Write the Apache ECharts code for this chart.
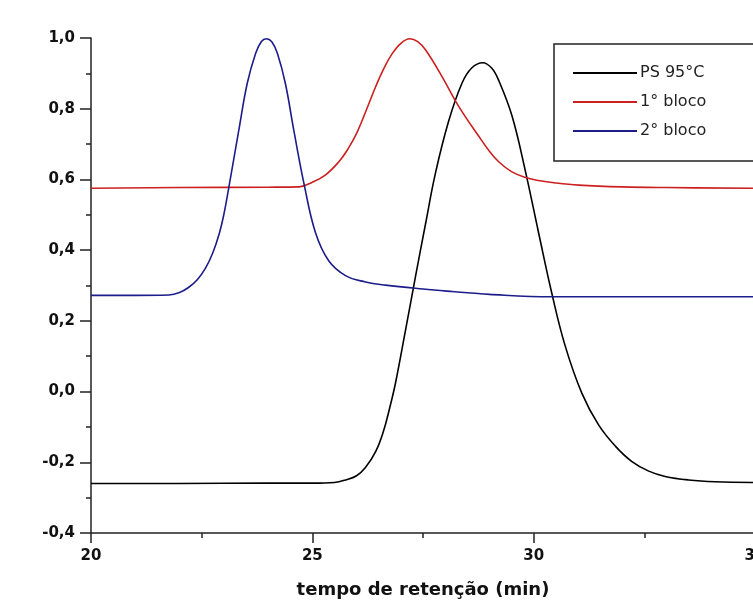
<!DOCTYPE html>
<html>
<head>
<meta charset="utf-8">
<script src="https://cdn.jsdelivr.net/npm/echarts@6/dist/echarts.min.js"></script>
<style>
  html, body { margin: 0; padding: 0; background: #fff; }
</style>
</head>
<body>
<div id="chart" style="width:753px;height:609px"></div>
<script>
// retention time (min) vs normalized signal
const seriesNames = ['PS 95°C', '1° bloco', '2° bloco']

const ps95 = [
  [20, -0.26], [22, -0.26], [24, -0.259], [25, -0.259], [25.5, -0.257],
  [25.75, -0.25], [26.0, -0.238], [26.2, -0.215], [26.43, -0.17], [26.6, -0.115],
  [26.75, -0.045], [26.88, 0.025], [27.1, 0.17], [27.33, 0.325], [27.56, 0.476],
  [27.78, 0.617], [28.08, 0.765], [28.38, 0.872], [28.6, 0.915], [28.85, 0.93],
  [29.05, 0.915], [29.21, 0.88], [29.51, 0.78], [29.81, 0.625], [30.11, 0.45],
  [30.41, 0.278], [30.71, 0.13], [31.09, -0.005], [31.47, -0.095], [31.85, -0.155],
  [32.22, -0.198], [32.6, -0.225], [32.97, -0.24], [33.5, -0.25], [34.1, -0.255],
  [35, -0.257],
]

const bloco1 = [
  [20, 0.575], [22, 0.577], [24, 0.578], [24.7, 0.579], [25.0, 0.592],
  [25.3, 0.613], [25.6, 0.65], [25.8, 0.685], [26.0, 0.73], [26.2, 0.79],
  [26.43, 0.862], [26.6, 0.91], [26.8, 0.955], [27.0, 0.985], [27.2, 0.998],
  [27.38, 0.99], [27.56, 0.966], [27.93, 0.891], [28.31, 0.806], [28.76, 0.722],
  [29.0, 0.68], [29.21, 0.65], [29.5, 0.622], [29.8, 0.606], [30.11, 0.597],
  [30.5, 0.59], [31.02, 0.584], [32, 0.579], [33, 0.577], [35, 0.575],
]

const bloco2 = [
  [20, 0.272], [21, 0.272], [21.76, 0.273], [22.0, 0.28], [22.21, 0.295],
  [22.4, 0.316], [22.59, 0.35], [22.75, 0.392], [22.9, 0.448], [23.0, 0.5],
  [23.11, 0.575], [23.34, 0.74], [23.53, 0.872], [23.72, 0.957], [23.85, 0.99],
  [23.96, 0.998], [24.08, 0.99], [24.21, 0.957], [24.39, 0.872], [24.58, 0.74],
  [24.81, 0.589], [25.07, 0.45], [25.37, 0.37], [25.75, 0.328], [26.2, 0.31],
  [26.65, 0.301], [27.5, 0.29], [28.16, 0.283], [29, 0.275], [30.41, 0.268],
  [32, 0.268], [35, 0.268],
]

const chart = echarts.init(document.getElementById('chart'))

const axisFont = {
  fontFamily: 'DejaVu Sans',
  fontWeight: 'bold',
  fontSize: 15,
  color: '#111',
}

function line(name, data, color) {
  return {
    name: name,
    type: 'line',
    data: data,
    smooth: 0.4,
    symbol: 'none',
    showSymbol: false,
    lineStyle: { color: color, width: 1.6 },
    itemStyle: { color: color },
  }
}

chart.setOption({
  animation: false,
  backgroundColor: '#fff',
  grid: {
    left: 91,
    top: 38,
    right: -2,
    bottom: 76,
    outerBoundsMode: 'none',
  },
  legend: {
    orient: 'vertical',
    left: 554,
    top: 44,
    padding: [21, 80, 22, 19],
    borderColor: '#222',
    borderWidth: 1.5,
    icon: 'rect',
    itemWidth: 64,
    itemHeight: 2,
    itemGap: 13,
    data: seriesNames,
    textStyle: {
      fontFamily: 'DejaVu Sans',
      fontSize: 16,
      lineHeight: 14,
      color: '#222',
      padding: [0, 0, 0, -2],
    },
  },
  xAxis: {
    type: 'value',
    min: 20,
    max: 35,
    interval: 5,
    name: 'tempo de retenção (min)',
    nameLocation: 'middle',
    nameGap: 48,
    nameTextStyle: {
      fontFamily: 'DejaVu Sans',
      fontWeight: 'bold',
      fontSize: 18,
      color: '#111',
    },
    axisLine: { onZero: false, lineStyle: { color: '#222', width: 1.5 } },
    axisTick: { inside: false, length: 10, lineStyle: { color: '#222', width: 1.5 } },
    minorTick: { show: true, splitNumber: 2, length: 5, lineStyle: { color: '#222', width: 1.5 } },
    axisLabel: Object.assign({ margin: 16 }, axisFont),
    splitLine: { show: false },
  },
  yAxis: {
    type: 'value',
    min: -0.4,
    max: 1.0,
    interval: 0.2,
    axisLine: { show: true, onZero: false, lineStyle: { color: '#222', width: 1.5 } },
    axisTick: { show: true, inside: false, length: 11, lineStyle: { color: '#222', width: 1.5 } },
    minorTick: { show: true, splitNumber: 2, length: 5, lineStyle: { color: '#222', width: 1.5 } },
    axisLabel: Object.assign({
      margin: 16,
      formatter: (v) => v.toFixed(1).replace('.', ','),
    }, axisFont),
    splitLine: { show: false },
  },
  series: [
    line(seriesNames[0], ps95, '#000000'),
    line(seriesNames[1], bloco1, '#cc2020'),
    line(seriesNames[2], bloco2, '#1c1c8a'),
  ],
})
</script>
</body>
</html>
